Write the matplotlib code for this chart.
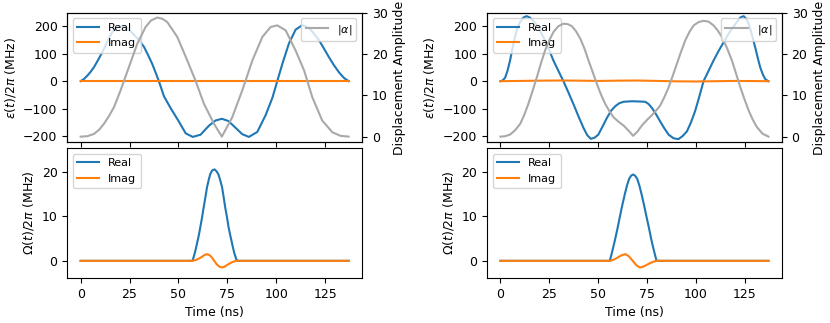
import matplotlib.pyplot as plt
from matplotlib.ticker import MultipleLocator
import numpy as np

plt.rcParams['font.size'] = 9

# ---- left column: cavity drive epsilon(t), displacement |alpha|, qubit drive Omega(t)
t_eps_l = [0, 1.7, 3.4, 5.1, 6.8, 8.5, 10.2, 11.9, 13.6, 16.0, 18.7, 21.0, 23.0, 25.2, 27.3,
           29.8, 32.4, 34.5, 36.6, 38.3, 40.0, 42.6, 46.0, 50.3, 53.7, 57.3, 61.3, 65.6, 69.0,
           72.2, 75.5, 78.5, 82.6, 86.0, 90.3, 94.6, 98.0, 100.5, 103.1, 106.5, 109.9, 113.3,
           116.7, 119.2, 121.8, 124.3, 126.9, 129.5, 132.1, 134.6, 137.0]
eps_re_l = [0, 8, 20, 34, 51, 72, 94, 118, 144, 178, 196, 200, 196, 184, 169,
            150, 125, 95, 63, 32, 0, -55, -98, -148, -190, -203, -195, -162, -143,
            -137, -145, -165, -193, -203, -185, -123, -61, 0, 63, 138, 188, 204,
            194, 174, 150, 120, 88, 58, 32, 12, 0]
t_eps_im_l = [0, 137.0]
eps_im_l = [0, 0]

t_alpha_l = [0, 3.4, 6.8, 9.5, 11.9, 14.5, 17.0, 20.4, 24.7, 29.0, 33.2, 36.0, 39.2, 41.8,
             44.3, 49.4, 54.5, 58.8, 63.0, 68.2, 72.2, 77.5, 82.6, 87.8, 92.9, 97.1, 100.5,
             104.8, 109.9, 114.2, 118.4, 123.5, 128.7, 132.8, 137.0]
alpha_l = [0, 0.1, 0.65, 1.7, 3.1, 5.0, 7.1, 11.2, 16.9, 22.6, 26.6, 28.2, 28.9, 28.6,
           27.8, 24.2, 18.5, 13.5, 8.0, 3.1, 0, 4.7, 11.2, 18.5, 24.2, 26.6, 27.0,
           25.8, 20.9, 16.1, 9.6, 3.9, 1.05, 0.2, 0]

t_om_re_l = [0, 57.2, 58.4, 59.5, 60.4, 61.2, 62.1, 62.9, 63.8, 64.6, 65.5, 66.3, 67.3, 68.5,
             69.6, 70.5, 71.4, 72.3, 73.1, 73.9, 74.8, 75.6, 76.5, 77.4, 78.5, 79.6, 80.2, 137.0]
om_re_l = [0, 0, 1.8, 3.9, 5.7, 7.6, 9.8, 12.0, 14.3, 16.5, 18.2, 19.5, 20.3, 20.5,
           20.0, 19.3, 18.0, 16.5, 14.3, 12.0, 9.8, 7.6, 5.7, 3.9, 1.8, 0.3, 0, 0]
t_om_im_l = [0, 57.2, 59.0, 60.5, 62.0, 63.3, 64.6, 65.8, 67.0, 68.3, 69.6, 70.9, 72.3, 73.6,
             75.0, 76.5, 78.0, 79.6, 80.2, 137.0]
om_im_l = [0, 0, 0.2, 0.5, 0.9, 1.3, 1.5, 1.3, 0.8, 0, -0.8, -1.3, -1.5, -1.3,
           -0.9, -0.5, -0.2, 0, 0, 0]

# ---- right column
t_eps_r = [0, 1.2, 2.4, 3.6, 4.9, 6.1, 7.4, 8.7, 10.1, 11.7, 13.4, 15.0, 16.8, 18.6, 20.7,
           22.8, 25.0, 27.1, 29.6, 32.2, 34.8, 37.4, 40.0, 42.5, 44.4, 46.2, 48.1, 50.0, 52.2,
           54.4, 56.5, 58.7, 60.8, 62.9, 67.2, 71.0, 74.0, 75.7, 77.4, 79.5, 81.6, 83.8, 86.0,
           88.5, 91.0, 93.1, 95.3, 97.4, 99.5, 101.7, 103.8, 106.4, 108.9, 111.5, 114.1, 116.2,
           118.3, 120.5, 122.6, 124.3, 125.6, 126.9, 128.5, 130.2, 131.5, 132.8, 134.1, 135.4, 137.0]
eps_re_r = [0, 3, 13, 38, 75, 118, 160, 195, 216, 232, 237, 232, 220, 205, 178,
            148, 112, 75, 38, 0, -42, -85, -130, -171, -197, -210, -206, -195, -165,
            -134, -108, -91, -80, -75, -73, -74, -75, -83, -97, -120, -146, -172, -195,
            -208, -211, -200, -183, -150, -109, -55, 0, 38, 75, 110, 142, 168,
            191, 212, 232, 237, 228, 210, 170, 124, 86, 50, 25, 7, 0]
t_eps_im_r = [0, 10, 20, 30, 40, 50, 60, 70, 80, 90, 100, 110, 120, 130, 137.0]
eps_im_r = [0, 1, 2, 2.5, 2, 1, 2, 2.5, 1, -0.5, -1, 0, 1, 0.5, 0]

t_alpha_r = [0, 2.4, 4.9, 7.4, 10.1, 12.2, 14.3, 16.5, 18.6, 20.7, 22.8, 25.0, 27.1, 29.6,
             32.2, 34.4, 36.5, 38.6, 40.8, 43.0, 45.0, 47.2, 49.3, 51.4, 53.5, 55.7, 57.8,
             60.4, 62.9, 65.4, 67.8, 70.0, 72.3, 74.8, 77.4, 79.5, 81.6, 83.8, 86.0, 88.1,
             90.2, 92.4, 94.5, 96.7, 98.8, 101.3, 103.8, 106.4, 108.9, 111.0, 113.2, 115.8,
             118.3, 120.5, 122.6, 124.8, 126.9, 129.0, 131.1, 134.0, 137.0]
alpha_r = [0, 0.1, 0.5, 1.5, 3.1, 5.3, 8.0, 11.2, 14.4, 17.8, 20.9, 23.4, 25.4, 26.8,
           27.4, 27.3, 26.8, 25.6, 23.8, 21.3, 18.5, 15.6, 12.8, 10.2, 8.0, 6.2, 4.7,
           3.6, 2.7, 1.5, 0.2, 1.2, 2.7, 4.0, 5.2, 6.3, 7.5, 9.6, 12.0, 14.8,
           17.7, 20.7, 23.4, 25.5, 27.0, 27.8, 28.1, 27.9, 27.0, 25.8, 24.2, 21.5,
           18.5, 15.2, 12.0, 9.0, 6.3, 4.1, 2.3, 0.7, 0]

t_om_re_r = [0, 55.9, 57.2, 58.5, 59.8, 61.0, 62.3, 63.6, 64.7, 65.8, 66.8, 67.8, 68.8, 69.9,
             71.0, 72.1, 73.4, 74.7, 76.0, 77.2, 78.5, 79.8, 137.0]
om_re_r = [0, 0, 2.2, 4.6, 7.2, 9.8, 12.5, 15.0, 16.9, 18.4, 19.1, 19.35, 19.1, 18.4,
           16.9, 15.0, 12.5, 9.8, 7.2, 4.6, 2.2, 0, 0]
t_om_im_r = [0, 55.9, 57.5, 59.0, 60.5, 62.2, 63.9, 65.7, 67.6, 69.5, 71.3, 73.0, 74.8, 76.5,
             78.2, 79.8, 137.0]
om_im_r = [0, 0, 0.2, 0.5, 0.9, 1.3, 1.5, 1.0, 0, -1.0, -1.5, -1.3, -0.9, -0.5,
           -0.2, 0, 0]


def draw_column(ax_top, ax_bot, t_re, eps_re, t_im, eps_im, t_a, alpha,
                t_ore, om_re, t_oim, om_im):
    ax_top.plot(t_re, eps_re, color='C0', label='Real')
    ax_top.plot(t_im, eps_im, color='C1', label='Imag')
    ax_top.set_ylim(-223, 250)
    ax_top.set_ylabel(r'$\epsilon(t)/2\pi$ (MHz)')
    ax_top.legend(loc='upper left', fontsize=8)

    tw = ax_top.twinx()
    tw.plot(t_a, alpha, color='darkgray', label=r'$|\alpha|$')
    tw.set_ylim(-1.4, 30.1)
    tw.set_ylabel('Displacement Amplitude')
    tw.legend(loc='upper right', fontsize=8)

    ax_bot.plot(t_ore, om_re, color='C0', label='Real')
    ax_bot.plot(t_oim, om_im, color='C1', label='Imag')
    ax_bot.set_ylim(-3.8, 25.3)
    ax_bot.set_ylabel(r'$\Omega(t)/2\pi$ (MHz)')
    ax_bot.set_xlabel('Time (ns)')
    ax_bot.xaxis.set_major_locator(MultipleLocator(25))
    ax_bot.legend(loc='upper left', fontsize=8)


fig, axs = plt.subplots(2, 2, figsize=(8.3, 3.23), sharex=True)
fig.subplots_adjust(left=0.081, right=0.942, bottom=0.140, top=0.961,
                    wspace=0.424, hspace=0.043)

draw_column(axs[0, 0], axs[1, 0], t_eps_l, eps_re_l, t_eps_im_l, eps_im_l,
            t_alpha_l, alpha_l, t_om_re_l, om_re_l, t_om_im_l, om_im_l)
draw_column(axs[0, 1], axs[1, 1], t_eps_r, eps_re_r, t_eps_im_r, eps_im_r,
            t_alpha_r, alpha_r, t_om_re_r, om_re_r, t_om_im_r, om_im_r)

fig.savefig('out.png', dpi=100)
